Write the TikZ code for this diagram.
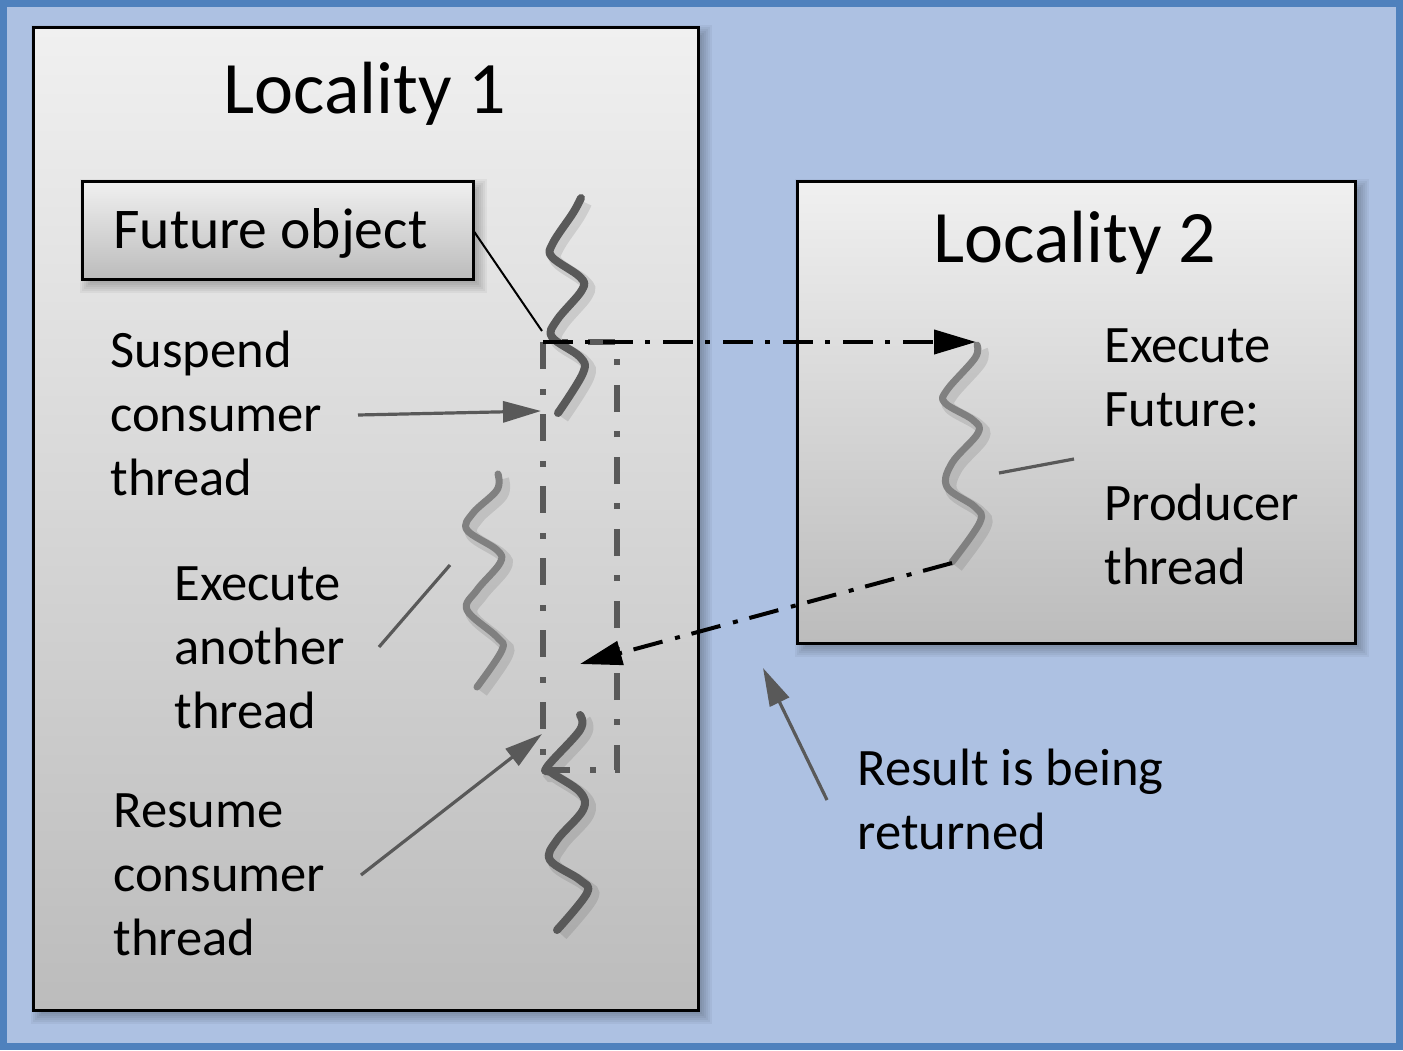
\documentclass[tikz,border=0pt]{standalone}
\usepackage{fontspec}
\setmainfont{Carlito}
\usetikzlibrary{arrows.meta,calc}
\definecolor{bgblue}{RGB}{173,193,226}
\definecolor{frameblue}{RGB}{79,129,189}
\definecolor{darkthread}{RGB}{89,89,89}
\definecolor{lightthread}{RGB}{128,128,128}
\definecolor{boxtop}{RGB}{240,240,240}
\definecolor{boxbot}{RGB}{188,188,188}
\newcommand\boxshadow[4]{%
  \foreach \r in {0,...,8}{%
    \fill[black,opacity=0.045] (#1+14-2*\r,#2+14-2*\r) rectangle (#3-2+2*\r,#4-2+2*\r);}}
\begin{document}
\begin{tikzpicture}[x=0.5pt,y=-0.5pt,
  box/.style={draw=black, line width=1.5pt, top color=boxtop, bottom color=boxbot,
    inner sep=0pt, outer sep=0pt},
  thread/.style={line width=4pt, line cap=round, line join=round,
    preaction={draw=black, opacity=0.10, line width=6pt,
      transform canvas={xshift=2.5pt,yshift=-2.5pt}}},
  dashrect/.style={draw=darkthread, line width=2.6pt, inner sep=0pt, outer sep=0pt,
    dash pattern=on 13.5pt off 10pt on 3pt off 9.5pt},
  gline/.style={draw=darkthread, line width=1.6pt},
  garrow/.style={gline, -{Triangle[length=19pt,width=10.5pt]}},
  barrow/.style={draw=black, line width=2pt,
    dash pattern=on 15pt off 6pt on 2.5pt off 6.5pt,
    -{Triangle[length=21pt,width=12pt]}},
  title/.style={inner sep=0pt, anchor=base, font=\fontsize{37}{44}\selectfont},
  txt/.style={inner sep=0pt, anchor=base west, align=left,
    font=\fontsize{26.3}{32}\selectfont}]
\useasboundingbox (0,0) rectangle (1403,1050);
\fill[bgblue] (0,0) rectangle (1403,1050);
\draw[frameblue, line width=3.5pt] (3.5,3.5) rectangle (1399.5,1046.5);

% Locality 1
\boxshadow{33}{27}{698}{1010}
\node[box, minimum width=332.5pt, minimum height=491.5pt] (loc1) at (365.5,518.5) {};
% Locality 2
\boxshadow{797}{181}{1355}{643}
\node[box, minimum width=279pt, minimum height=231pt] (loc2) at (1076,412) {};
% Future object
\boxshadow{82}{181}{473}{279}
\node[box, minimum width=195.5pt, minimum height=49pt] (fut) at (277.5,230) {};

% titles and labels (base anchor = baseline of the last line)
\node[title] (loc1t) at (365,113) {Locality 1};
\node[title] (loc2t) at (1075,262) {Locality 2};
\node[inner sep=0pt, anchor=base west, font=\fontsize{28.8}{34}\selectfont] (futt) at (113,248) {Future object};
\node[txt] (susp) at (110,495) {Suspend\\consumer\\thread};
\node[txt] (anot) at (174,728) {Execute\\another\\thread};
\node[txt] (resm) at (113,955) {Resume\\consumer\\thread};
\node[txt] (exfu) at (1104,426) {Execute\\Future:};
\node[txt] (prod) at (1104,584) {Producer\\thread};
\node[txt] (rslt) at (857,849) {Result is being\\returned};

% threads
\draw[thread, draw=darkthread] plot[smooth, tension=0.6] coordinates {
  (581,198) (573,213) (553,243) (552,257) (580,277) (582,290)
  (557,320) (552,337) (580,357) (583,373) (558,413)};
\draw[thread, draw=lightthread, line width=3.5pt] plot[smooth, tension=0.6] coordinates {
  (498,474) (497,490) (473,513) (467,530) (497,550) (500,563)
  (477,590) (467,610) (497,637) (502,650) (477,687)};
\draw[thread, draw=darkthread] plot[smooth, tension=0.6] coordinates {
  (580,715) (580,730) (547,767) (552,773) (580,792) (583,810)
  (557,840) (550,860) (580,880) (587,893) (557,930)};
\draw[thread, draw=lightthread, line width=3.5pt] plot[smooth, tension=0.6] coordinates {
  (977,345) (975,358) (947,390) (945,403) (973,420) (978,433)
  (952,463) (947,487) (975,507) (980,522) (952,562)};

% waiting frame
\node[dashrect, minimum width=37pt, minimum height=214pt] (wait) at (580,556) {};

% connector end points
\coordinate (futT) at (542,331);
\coordinate (suspS) at (358,415);
\coordinate (suspT) at (541,411);
\coordinate (anoS) at (379,647);
\coordinate (anoT) at (450,565);
\coordinate (resS) at (361,875);
\coordinate (resT) at (542,734);
\coordinate (prodS) at (1074,459);
\coordinate (prodT) at (999,473);
\coordinate (retS) at (952,563);
\coordinate (retT) at (580,664);
\coordinate (callT) at (976,342);
\coordinate (rsltS) at (827,800);
\coordinate (rsltT) at (763,668);

% connectors
\draw[black, line width=1pt] (fut.east) -- (futT);
\draw[garrow] (suspS) -- (suspT);
\draw[gline] (anoS) -- (anoT);
\draw[garrow] (resS) -- (resT);
\draw[gline] (prodT) -- (prodS);
\draw[garrow] (rsltS) -- (rsltT);
\draw[barrow] (wait.north west) -- (callT);
\draw[barrow] (retS) -- (retT);
\end{tikzpicture}
\end{document}
